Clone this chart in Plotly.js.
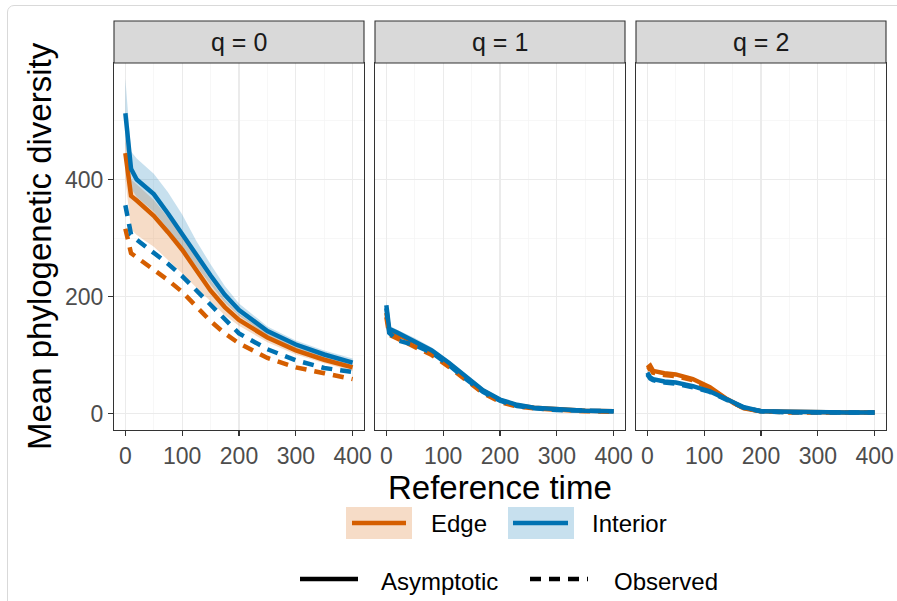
<!DOCTYPE html>
<html><head><meta charset="utf-8">
<script src="https://cdn.plot.ly/plotly-3.0.1.min.js"></script>
<style>
body{margin:0;overflow:hidden;background:#fff}
#frame{position:absolute;left:7px;top:5px;width:960px;height:700px;border:1px solid #D9D9D9;border-radius:7px;pointer-events:none}
</style>
</head><body>
<div id="chart" style="width:897px;height:601px"></div><div id="frame"></div>
<script>
// ---------- data ----------
const panelLabels = ["q = 0", "q = 1", "q = 2"];
const xTicks = [0, 100, 200, 300, 400];
const yTicks = [0, 200, 400];

// q = 0
const t0 = [0, 10, 20, 50, 75, 100, 125, 150, 175, 200, 250, 300, 350, 400];
const edgeAsym0 = [445, 372, 364, 338, 310, 280, 245, 210, 182, 160, 130, 108, 92, 79];
const edgeLo0   = [400, 315, 305, 285, 262, 240, 215, 192, 168, 150, 122, 101, 86, 73];
const edgeHi0   = [470, 400, 392, 365, 335, 305, 265, 228, 195, 170, 138, 115, 98, 85];
const edgeObs0  = [316, 274, 267, 246, 228, 208, 182, 158, 137, 120, 95, 79, 69, 59];
const intAsym0  = [513, 418, 400, 375, 342, 306, 270, 236, 203, 177, 141, 118, 101, 87];
const intLo0    = [460, 385, 370, 345, 316, 285, 252, 220, 190, 167, 133, 111, 95, 81];
const intHi0    = [572, 448, 436, 410, 378, 340, 295, 255, 218, 188, 149, 125, 108, 94];
const intObs0   = [356, 306, 297, 275, 256, 235, 210, 186, 160, 137, 110, 91, 78, 71];

// q = 1
const t1 = [0, 5, 20, 50, 80, 110, 140, 170, 200, 230, 260, 300, 350, 400];
const edgeAsym1 = [172, 142, 135, 122, 106, 85, 61, 39, 23, 14, 10, 7, 5, 4];
const edgeLo1   = [165, 137, 130, 117, 101, 81, 58, 36, 21, 12, 9, 6, 4, 3];
const edgeHi1   = [180, 147, 140, 127, 111, 89, 64, 42, 25, 16, 11, 8, 6, 5];
const edgeObs1  = [165, 135, 128, 114, 100, 80, 57, 35, 20, 12, 9, 6, 4, 3];
const intAsym1  = [185, 145, 138, 124, 108, 87, 63, 40, 24, 15, 10, 7, 5, 4];
const intLo1    = [177, 140, 133, 119, 103, 83, 60, 37, 22, 13, 9, 6, 4, 3];
const intHi1    = [193, 150, 143, 129, 113, 91, 66, 43, 26, 17, 11, 8, 6, 5];
const intObs1   = [180, 138, 125, 117, 104, 83, 59, 37, 22, 13, 9, 6, 5, 4];

// q = 2
const t2 = [0, 5, 10, 30, 50, 80, 110, 140, 170, 200, 250, 300, 350, 400];
const edgeAsym2 = [78, 82, 73, 69, 67, 59, 45, 25, 9, 4, 3, 2, 2, 2];
const edgeLo2   = [74, 78, 70, 66, 64, 56, 42, 23, 8, 3, 2, 1, 1, 1];
const edgeHi2   = [82, 86, 76, 72, 70, 62, 48, 27, 11, 5, 4, 3, 3, 3];
const edgeObs2  = [75, 78, 70, 66, 64, 57, 43, 24, 9, 4, 2, 2, 2, 2];
const intAsym2  = [70, 62, 59, 55, 53, 47, 38, 24, 11, 4, 3, 2, 2, 2];
const intLo2    = [67, 59, 56, 52, 50, 44, 35, 22, 9, 3, 2, 1, 1, 1];
const intHi2    = [73, 65, 62, 58, 56, 50, 41, 26, 13, 5, 4, 3, 3, 3];
const intObs2   = [67, 60, 57, 53, 51, 45, 37, 23, 10, 4, 2, 2, 2, 2];

// ---------- styling ----------
const ORANGE = "#D55E00", BLUE = "#0072B2";
const ORANGE_F = "rgba(213,94,0,0.22)", BLUE_F = "rgba(0,114,178,0.22)";
const FONT = "Liberation Sans, Arial, sans-serif";
const LW = 4.5, DASH = "11px,8px";

const panels = [
  {t: t0, ea: edgeAsym0, el: edgeLo0, eh: edgeHi0, eo: edgeObs0, ia: intAsym0, il: intLo0, ih: intHi0, io: intObs0},
  {t: t1, ea: edgeAsym1, el: edgeLo1, eh: edgeHi1, eo: edgeObs1, ia: intAsym1, il: intLo1, ih: intHi1, io: intObs1},
  {t: t2, ea: edgeAsym2, el: edgeLo2, eh: edgeHi2, eo: edgeObs2, ia: intAsym2, il: intLo2, ih: intHi2, io: intObs2}
];

const traces = [];
panels.forEach((p, i) => {
  const xa = i === 0 ? "x" : "x" + (i + 1);
  const ya = i === 0 ? "y" : "y" + (i + 1);
  const band = (lo, hi, col) => ({
    x: p.t.concat(p.t.slice().reverse()),
    y: hi.concat(lo.slice().reverse()),
    xaxis: xa, yaxis: ya, type: "scatter", mode: "lines",
    fill: "toself", fillcolor: col, line: {width: 0, color: "rgba(0,0,0,0)"},
    hoverinfo: "skip", showlegend: false
  });
  const line = (y, col, dash) => ({
    x: p.t, y: y, xaxis: xa, yaxis: ya, type: "scatter", mode: "lines",
    line: {color: col, width: LW, dash: dash}, showlegend: false
  });
  traces.push(band(p.el, p.eh, ORANGE_F));
  traces.push(band(p.il, p.ih, BLUE_F));
  traces.push(line(p.ea, ORANGE, "solid"));
  traces.push(line(p.eo, ORANGE, DASH));
  traces.push(line(p.ia, BLUE, "solid"));
  traces.push(line(p.io, BLUE, DASH));
});

// ---------- geometry ----------
const W = 897, H = 601, ML = 114, MR = 11, MT = 21, MB = 171;
const PW = W - ML - MR, PH = H - MT - MB;
const px = X => (X - ML) / PW;
const py = Y => (H - MB - Y) / PH;
const panelTop = py(63);
const doms = [[0, 250 / PW], [261 / PW, 511 / PW], [522 / PW, 1]];

const layout = {
  width: W, height: H,
  margin: {l: ML, r: MR, t: MT, b: MB},
  paper_bgcolor: "#fff", plot_bgcolor: "#fff",
  font: {family: FONT, color: "#000"},
  showlegend: false,
  shapes: [], annotations: []
};

const TICKFONT = {size: 23, color: "#4D4D4D", family: FONT};
const axX = (i) => ({
  domain: doms[i], range: [-20, 420], anchor: i === 0 ? "y" : "y" + (i + 1),
  tickmode: "array", tickvals: xTicks, ticktext: xTicks.map(String),
  ticks: "outside", ticklen: 5, tickcolor: "#333", tickwidth: 1.1,
  tickfont: TICKFONT,
  showgrid: true, gridcolor: "#EBEBEB", gridwidth: 1.1,
  minor: {dtick: 50, tick0: 0, showgrid: true, gridcolor: "#F3F3F3", gridwidth: 0.7},
  zeroline: false, showline: true, linecolor: "#333", linewidth: 1.1, mirror: true,
  fixedrange: true
});
const axY = (i) => ({
  domain: [0, panelTop], range: [-28, 599], anchor: i === 0 ? "x" : "x" + (i + 1),
  tickmode: "array", tickvals: yTicks, ticktext: yTicks.map(String),
  ticks: i === 0 ? "outside" : "", ticklen: 5, tickcolor: "#333", tickwidth: 1.1,
  showticklabels: i === 0,
  tickfont: TICKFONT,
  showgrid: true, gridcolor: "#EBEBEB", gridwidth: 1.1,
  minor: {dtick: 100, tick0: 0, showgrid: true, gridcolor: "#F3F3F3", gridwidth: 0.7},
  zeroline: false, showline: true, linecolor: "#333", linewidth: 1.1, mirror: true,
  fixedrange: true
});
for (let i = 0; i < 3; i++) {
  layout[i === 0 ? "xaxis" : "xaxis" + (i + 1)] = axX(i);
  layout[i === 0 ? "yaxis" : "yaxis" + (i + 1)] = axY(i);
  layout.shapes.push({type: "rect", xref: "paper", yref: "paper",
    x0: doms[i][0], x1: doms[i][1], y0: panelTop, y1: 1,
    fillcolor: "#D9D9D9", line: {color: "#333", width: 1.1}, layer: "above"});
  layout.annotations.push({xref: "paper", yref: "paper",
    x: (doms[i][0] + doms[i][1]) / 2, y: (panelTop + 1) / 2,
    text: panelLabels[i], showarrow: false, xanchor: "center", yanchor: "middle",
    font: {size: 25, color: "#1A1A1A", family: FONT}});
}

// axis titles
layout.annotations.push({xref: "paper", yref: "paper", x: px(500), y: py(487),
  text: "Reference time", showarrow: false, xanchor: "center", yanchor: "middle",
  font: {size: 33, color: "#000", family: FONT}});
layout.annotations.push({xref: "paper", yref: "paper", x: px(40), y: py(246),
  text: "Mean phylogenetic diversity", showarrow: false, textangle: -90,
  xanchor: "center", yanchor: "middle",
  font: {size: 33, color: "#000", family: FONT}});

// legend (manual)
const legendText = (X, Y, txt) => layout.annotations.push({xref: "paper", yref: "paper",
  x: px(X), y: py(Y), text: txt, showarrow: false, xanchor: "left", yanchor: "middle",
  font: {size: 24, color: "#000", family: FONT}});
const keyBox = (X0, X1, col) => layout.shapes.push({type: "rect", xref: "paper", yref: "paper",
  x0: px(X0), x1: px(X1), y0: py(539), y1: py(507), fillcolor: col, line: {width: 0}});
const keyLine = (X0, X1, Y, col, dash) => layout.shapes.push({type: "line", xref: "paper", yref: "paper",
  x0: px(X0), x1: px(X1), y0: py(Y), y1: py(Y), line: {color: col, width: LW, dash: dash}});

keyBox(346, 412, ORANGE_F); keyLine(352, 406, 523, ORANGE, "solid"); legendText(429, 523, "Edge");
keyBox(508, 574, BLUE_F);   keyLine(513, 568, 523, BLUE, "solid");   legendText(590, 523, "Interior");
keyLine(300, 358, 579, "#000", "solid"); legendText(379, 581, "Asymptotic");
keyLine(530, 588, 579, "#000", DASH);    legendText(612, 581, "Observed");

Plotly.newPlot("chart", traces, layout, {staticPlot: true, displayModeBar: false});
</script>
</body></html>
